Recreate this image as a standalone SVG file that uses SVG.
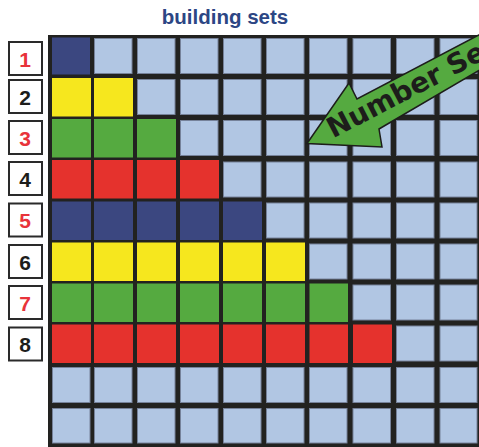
<svg xmlns="http://www.w3.org/2000/svg" width="479" height="447" viewBox="0 0 479 447">
<style>
.lt{fill:#b1c6e3;stroke:#76829a;stroke-width:1}
.nv{fill:#3b4780}
.yl{fill:#f6e71e}
.gr{fill:#55aa40}
.rd{fill:#e5322d}
.box{fill:#fff;stroke:#2a2a2a;stroke-width:2}
.num{font-family:"Liberation Sans",Arial,sans-serif;font-weight:bold;font-size:21px;text-anchor:middle}
.odd{fill:#e8333a}
.even{fill:#1d1d1b}
</style>
<rect width="479" height="447" fill="#fff"/>
<text x="225" y="24" font-family="Liberation Sans, Arial, sans-serif" font-weight="bold" font-size="20.5" fill="#2c4684" text-anchor="middle">building sets</text>
<g id="labels">
<g id="label-1"><rect class="box" x="9" y="42" width="33" height="33"/><text class="num odd" x="25" y="66.5">1</text></g>
<g id="label-2"><rect class="box" x="9" y="80" width="33" height="33"/><text class="num even" x="25" y="104.5">2</text></g>
<g id="label-3"><rect class="box" x="9" y="121" width="33" height="33"/><text class="num odd" x="25" y="145.5">3</text></g>
<g id="label-4"><rect class="box" x="9" y="162" width="33" height="33"/><text class="num even" x="25" y="186.5">4</text></g>
<g id="label-5"><rect class="box" x="9" y="203.5" width="33" height="33"/><text class="num odd" x="25" y="228">5</text></g>
<g id="label-6"><rect class="box" x="9" y="245" width="33" height="33"/><text class="num even" x="25" y="269.5">6</text></g>
<g id="label-7"><rect class="box" x="9" y="286" width="33" height="33"/><text class="num odd" x="25" y="310.5">7</text></g>
<g id="label-8"><rect class="box" x="9" y="327.5" width="33" height="33"/><text class="num even" x="25" y="352">8</text></g>
</g>
<g id="grid">
<rect x="48" y="35" width="431" height="412" fill="#222220"/>
<g id="row-1" transform="translate(0,38.5)">
<rect class="nv" x="52" y="-1" width="38" height="37"/>
<rect class="lt" x="94.5" y="0" width="37.5" height="35"/><rect class="lt" x="137.5" y="0" width="37.5" height="35"/><rect class="lt" x="180.5" y="0" width="37.5" height="35"/><rect class="lt" x="223.5" y="0" width="37.5" height="35"/><rect class="lt" x="266.5" y="0" width="37.5" height="35"/><rect class="lt" x="309.5" y="0" width="37.5" height="35"/><rect class="lt" x="353" y="0" width="37.5" height="35"/><rect class="lt" x="396.5" y="0" width="37.5" height="35"/><rect class="lt" x="440" y="0" width="37" height="35"/>
</g>
<g id="row-2" transform="translate(0,79.5)">
<rect class="yl" x="52" y="-1.5" width="39" height="38.5"/><rect class="yl" x="94" y="-1.5" width="39" height="38.5"/>
<rect class="lt" x="137.5" y="0" width="37.5" height="35"/><rect class="lt" x="180.5" y="0" width="37.5" height="35"/><rect class="lt" x="223.5" y="0" width="37.5" height="35"/><rect class="lt" x="266.5" y="0" width="37.5" height="35"/><rect class="lt" x="309.5" y="0" width="37.5" height="35"/><rect class="lt" x="353" y="0" width="37.5" height="35"/><rect class="lt" x="396.5" y="0" width="37.5" height="35"/><rect class="lt" x="440" y="0" width="37" height="35"/>
</g>
<g id="row-3" transform="translate(0,120.5)">
<rect class="gr" x="52" y="-1.5" width="39" height="38.5"/><rect class="gr" x="94" y="-1.5" width="39" height="38.5"/><rect class="gr" x="137" y="-1.5" width="39" height="38.5"/>
<rect class="lt" x="180.5" y="0" width="37.5" height="35"/><rect class="lt" x="223.5" y="0" width="37.5" height="35"/><rect class="lt" x="266.5" y="0" width="37.5" height="35"/><rect class="lt" x="309.5" y="0" width="37.5" height="35"/><rect class="lt" x="353" y="0" width="37.5" height="35"/><rect class="lt" x="396.5" y="0" width="37.5" height="35"/><rect class="lt" x="440" y="0" width="37" height="35"/>
</g>
<g id="row-4" transform="translate(0,162)">
<rect class="rd" x="52" y="-2" width="39" height="38.5"/><rect class="rd" x="94" y="-2" width="39" height="38.5"/><rect class="rd" x="137" y="-2" width="39" height="38.5"/><rect class="rd" x="180" y="-2" width="39" height="38.5"/>
<rect class="lt" x="223.5" y="0" width="37.5" height="35"/><rect class="lt" x="266.5" y="0" width="37.5" height="35"/><rect class="lt" x="309.5" y="0" width="37.5" height="35"/><rect class="lt" x="353" y="0" width="37.5" height="35"/><rect class="lt" x="396.5" y="0" width="37.5" height="35"/><rect class="lt" x="440" y="0" width="37" height="35"/>
</g>
<g id="row-5" transform="translate(0,203)">
<rect class="nv" x="52" y="-1.5" width="39" height="38.5"/><rect class="nv" x="94" y="-1.5" width="39" height="38.5"/><rect class="nv" x="137" y="-1.5" width="39" height="38.5"/><rect class="nv" x="180" y="-1.5" width="39" height="38.5"/><rect class="nv" x="223" y="-1.5" width="39" height="38.5"/>
<rect class="lt" x="266.5" y="0" width="37.5" height="35"/><rect class="lt" x="309.5" y="0" width="37.5" height="35"/><rect class="lt" x="353" y="0" width="37.5" height="35"/><rect class="lt" x="396.5" y="0" width="37.5" height="35"/><rect class="lt" x="440" y="0" width="37" height="35"/>
</g>
<g id="row-6" transform="translate(0,244)">
<rect class="yl" x="52" y="-1.5" width="39" height="38.5"/><rect class="yl" x="94" y="-1.5" width="39" height="38.5"/><rect class="yl" x="137" y="-1.5" width="39" height="38.5"/><rect class="yl" x="180" y="-1.5" width="39" height="38.5"/><rect class="yl" x="223" y="-1.5" width="39" height="38.5"/><rect class="yl" x="266" y="-1.5" width="39" height="38.5"/>
<rect class="lt" x="309.5" y="0" width="37.5" height="35"/><rect class="lt" x="353" y="0" width="37.5" height="35"/><rect class="lt" x="396.5" y="0" width="37.5" height="35"/><rect class="lt" x="440" y="0" width="37" height="35"/>
</g>
<g id="row-7" transform="translate(0,285)">
<rect class="gr" x="52" y="-1.5" width="39" height="38.5"/><rect class="gr" x="94" y="-1.5" width="39" height="38.5"/><rect class="gr" x="137" y="-1.5" width="39" height="38.5"/><rect class="gr" x="180" y="-1.5" width="39" height="38.5"/><rect class="gr" x="223" y="-1.5" width="39" height="38.5"/><rect class="gr" x="266" y="-1.5" width="39" height="38.5"/><rect class="gr" x="309.5" y="-1.5" width="38.5" height="38.5"/>
<rect class="lt" x="353" y="0" width="37.5" height="35"/><rect class="lt" x="396.5" y="0" width="37.5" height="35"/><rect class="lt" x="440" y="0" width="37" height="35"/>
</g>
<g id="row-8" transform="translate(0,326)">
<rect class="rd" x="52" y="-1.5" width="39" height="38.5"/><rect class="rd" x="94" y="-1.5" width="39" height="38.5"/><rect class="rd" x="137" y="-1.5" width="39" height="38.5"/><rect class="rd" x="180" y="-1.5" width="39" height="38.5"/><rect class="rd" x="223" y="-1.5" width="39" height="38.5"/><rect class="rd" x="266" y="-1.5" width="39" height="38.5"/><rect class="rd" x="309.5" y="-1.5" width="38.5" height="38.5"/><rect class="rd" x="353" y="-1.5" width="39" height="38.5"/>
<rect class="lt" x="396.5" y="0" width="37.5" height="35"/><rect class="lt" x="440" y="0" width="37" height="35"/>
</g>
<g id="row-9" transform="translate(0,367.5)">
<rect class="lt" x="52.5" y="0" width="37.5" height="35"/><rect class="lt" x="94.5" y="0" width="37.5" height="35"/><rect class="lt" x="137.5" y="0" width="37.5" height="35"/><rect class="lt" x="180.5" y="0" width="37.5" height="35"/><rect class="lt" x="223.5" y="0" width="37.5" height="35"/><rect class="lt" x="266.5" y="0" width="37.5" height="35"/><rect class="lt" x="309.5" y="0" width="37.5" height="35"/><rect class="lt" x="353" y="0" width="37.5" height="35"/><rect class="lt" x="396.5" y="0" width="37.5" height="35"/><rect class="lt" x="440" y="0" width="37" height="35"/>
</g>
<g id="row-10" transform="translate(0,408.5)">
<rect class="lt" x="52.5" y="0" width="37.5" height="34.5"/><rect class="lt" x="94.5" y="0" width="37.5" height="34.5"/><rect class="lt" x="137.5" y="0" width="37.5" height="34.5"/><rect class="lt" x="180.5" y="0" width="37.5" height="34.5"/><rect class="lt" x="223.5" y="0" width="37.5" height="34.5"/><rect class="lt" x="266.5" y="0" width="37.5" height="34.5"/><rect class="lt" x="309.5" y="0" width="37.5" height="34.5"/><rect class="lt" x="353" y="0" width="37.5" height="34.5"/><rect class="lt" x="396.5" y="0" width="37.5" height="34.5"/><rect class="lt" x="440" y="0" width="37" height="34.5"/>
</g>
</g>
<g id="number-sets-arrow">
<polygon points="307,143.5 349,83 357,99 490,29 490,64 379,129 382,147" fill="#55aa40" stroke="#1d1d1b" stroke-width="1.5" stroke-linejoin="miter"/>
<text transform="translate(333,138.5) rotate(-27.5)" font-family="DejaVu Sans, sans-serif" font-weight="bold" font-size="28" fill="#1d1d1b">Number Se</text>
</g>
</svg>
